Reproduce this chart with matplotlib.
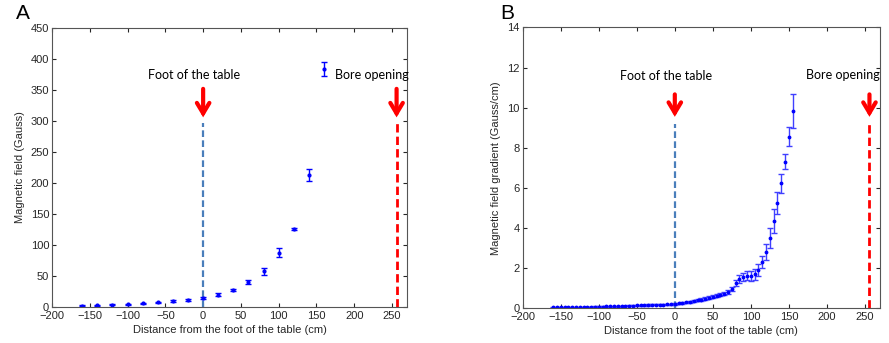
import matplotlib
matplotlib.use("Agg")
import matplotlib.pyplot as plt

plt.rcParams['font.family'] = ['Liberation Sans', 'DejaVu Sans']

# ---- Panel A data ----
dist_a = [-160, -140, -120, -100, -80, -60, -40, -20, 0, 20, 40, 60, 80, 100, 120, 140]
field_a = [2, 3, 3.5, 4.5, 6, 7.5, 9, 11, 14.5, 20, 27.5, 40, 57.5, 87.5, 126, 213]
err_a = [1, 1, 1, 1, 1, 1, 1.5, 1.5, 1.5, 2, 2, 3, 5.5, 7, 2, 9.5]

# ---- Panel B data ----
dist_b = [-160, -155, -150, -145, -140, -135, -130, -125, -120, -115, -110, -105,
          -100, -95, -90, -85, -80, -75, -70, -65, -60, -55, -50, -45, -40, -35,
          -30, -25, -20, -15, -10, -5, 0, 5, 10, 15, 20, 25, 30, 35, 40, 45, 50,
          55, 60, 65, 70, 75, 80, 85, 90, 95, 100, 105, 110, 115, 120, 125, 130,
          135, 140, 145, 150, 155]
grad_b = [0.03, 0.03, 0.04, 0.03, 0.03, 0.04, 0.04, 0.04, 0.05, 0.05, 0.05, 0.06,
          0.07, 0.07, 0.08, 0.08, 0.09, 0.09, 0.10, 0.10, 0.11, 0.12, 0.13, 0.13,
          0.14, 0.15, 0.16, 0.16, 0.17, 0.17, 0.18, 0.19, 0.21, 0.23, 0.26, 0.28,
          0.31, 0.34, 0.38, 0.42, 0.47, 0.52, 0.57, 0.62, 0.67, 0.72, 0.80, 0.95,
          1.25, 1.45, 1.55, 1.62, 1.60, 1.68, 1.90, 2.28, 2.80, 3.51, 4.32, 5.22,
          6.22, 7.30, 8.55, 9.84]
err_b = [0.02, 0.02, 0.02, 0.02, 0.02, 0.02, 0.02, 0.02, 0.02, 0.02, 0.02, 0.02,
         0.02, 0.02, 0.02, 0.02, 0.02, 0.02, 0.02, 0.02, 0.03, 0.03, 0.03, 0.03,
         0.03, 0.03, 0.03, 0.03, 0.03, 0.03, 0.03, 0.03, 0.04, 0.04, 0.04, 0.04,
         0.05, 0.05, 0.05, 0.06, 0.06, 0.07, 0.08, 0.08, 0.08, 0.09, 0.10, 0.12,
         0.15, 0.18, 0.20, 0.22, 0.25, 0.28, 0.30, 0.30, 0.40, 0.50, 0.60, 0.55,
         0.47, 0.37, 0.47, 0.85]

# annotations
foot_x = 0
bore_x = 256
line_top_a = 297
line_top_b = 9.2
arrow_a = (352, 306)
arrow_b = (10.66, 9.54)

fig = plt.figure(figsize=(8.89, 3.43), dpi=100)
axA = fig.add_axes([0.0585, 0.105, 0.3995, 0.813])
axB = fig.add_axes([0.588, 0.102, 0.402, 0.818])

blue = (0, 0, 1)
dash_blue = '#4a7ebb'
red = '#ff0000'
note_font = ['Lato', 'DejaVu Sans']
tick_col = '#262626'
arrow_style = '->,head_length=0.75,head_width=0.45'


def style(ax):
    ax.set_xlim(-200, 270)
    ax.set_xticks([-200, -150, -100, -50, 0, 50, 100, 150, 200, 250])
    ax.tick_params(direction='in', top=True, right=True, labelsize=8,
                   colors=tick_col, length=3, width=0.8, pad=2)
    ax.tick_params(axis='x', pad=3)
    for s in ax.spines.values():
        s.set_color('#555555')
        s.set_linewidth(0.8)


# Panel A
ebA = axA.errorbar(dist_a, field_a, yerr=err_a, fmt='.', color=blue, ms=4,
                   capsize=2.5, elinewidth=1, capthick=1)
style(axA)
axA.set_ylim(0, 450)
axA.set_yticks(range(0, 451, 50))
axA.set_xlabel('Distance from the foot of the table (cm)', fontsize=8, color=tick_col, labelpad=2.5)
axA.set_ylabel('Magnetic field (Gauss)', fontsize=8, color=tick_col, labelpad=4)
axA.plot([foot_x, foot_x], [0, line_top_a], ls='--', color=dash_blue, lw=1.6, dashes=(3, 1.5))
axA.plot([bore_x, bore_x], [0, line_top_a + 5], ls='--', color=red, lw=2, dashes=(3, 1.5))
for xx in (foot_x, bore_x):
    axA.annotate('', xy=(xx, arrow_a[1]), xytext=(xx, arrow_a[0]),
                 arrowprops=dict(arrowstyle=arrow_style, color=red, lw=3,
                                 shrinkA=0, shrinkB=0, joinstyle='miter'))
axA.text(-12, 375, 'Foot of the table', ha='center', va='center', fontsize=9,
         family=note_font, color='black')
axA.text(174, 375, 'Bore opening', ha='left', va='center', fontsize=9,
         family=note_font, color='black')
axA.legend([ebA], [''], loc='center', bbox_to_anchor=(0.77, 0.85), frameon=False,
           handlelength=1.2, handletextpad=0.2, borderpad=0)
fig.text(0.018, 0.96, 'A', fontsize=15, va='center', ha='left')

# Panel B
axB.errorbar(dist_b, grad_b, yerr=err_b, fmt='.', color=blue, ms=3.5,
             capsize=2.5, elinewidth=1, capthick=1, ecolor=(0.25, 0.25, 1.0))
style(axB)
axB.set_ylim(0, 14)
axB.set_yticks(range(0, 15, 2))
axB.set_xlabel('Distance from the foot of the table (cm)', fontsize=8, color=tick_col, labelpad=2.5)
axB.set_ylabel('Magnetic field gradient (Gauss/cm)', fontsize=8, color=tick_col, labelpad=5)
axB.plot([foot_x, foot_x], [0, line_top_b], ls='--', color=dash_blue, lw=1.6, dashes=(3, 1.5))
axB.plot([bore_x, bore_x], [0, line_top_b], ls='--', color=red, lw=2, dashes=(3, 1.5))
for xx in (foot_x, bore_x):
    axB.annotate('', xy=(xx, arrow_b[1]), xytext=(xx, arrow_b[0]),
                 arrowprops=dict(arrowstyle=arrow_style, color=red, lw=3,
                                 shrinkA=0, shrinkB=0, joinstyle='miter'))
axB.text(-12, 11.57, 'Foot of the table', ha='center', va='center', fontsize=9,
         family=note_font, color='black')
axB.text(172, 11.62, 'Bore opening', ha='left', va='center', fontsize=9,
         family=note_font, color='black')
fig.text(0.563, 0.96, 'B', fontsize=15, va='center', ha='left')

fig.savefig('out.png', dpi=100)
